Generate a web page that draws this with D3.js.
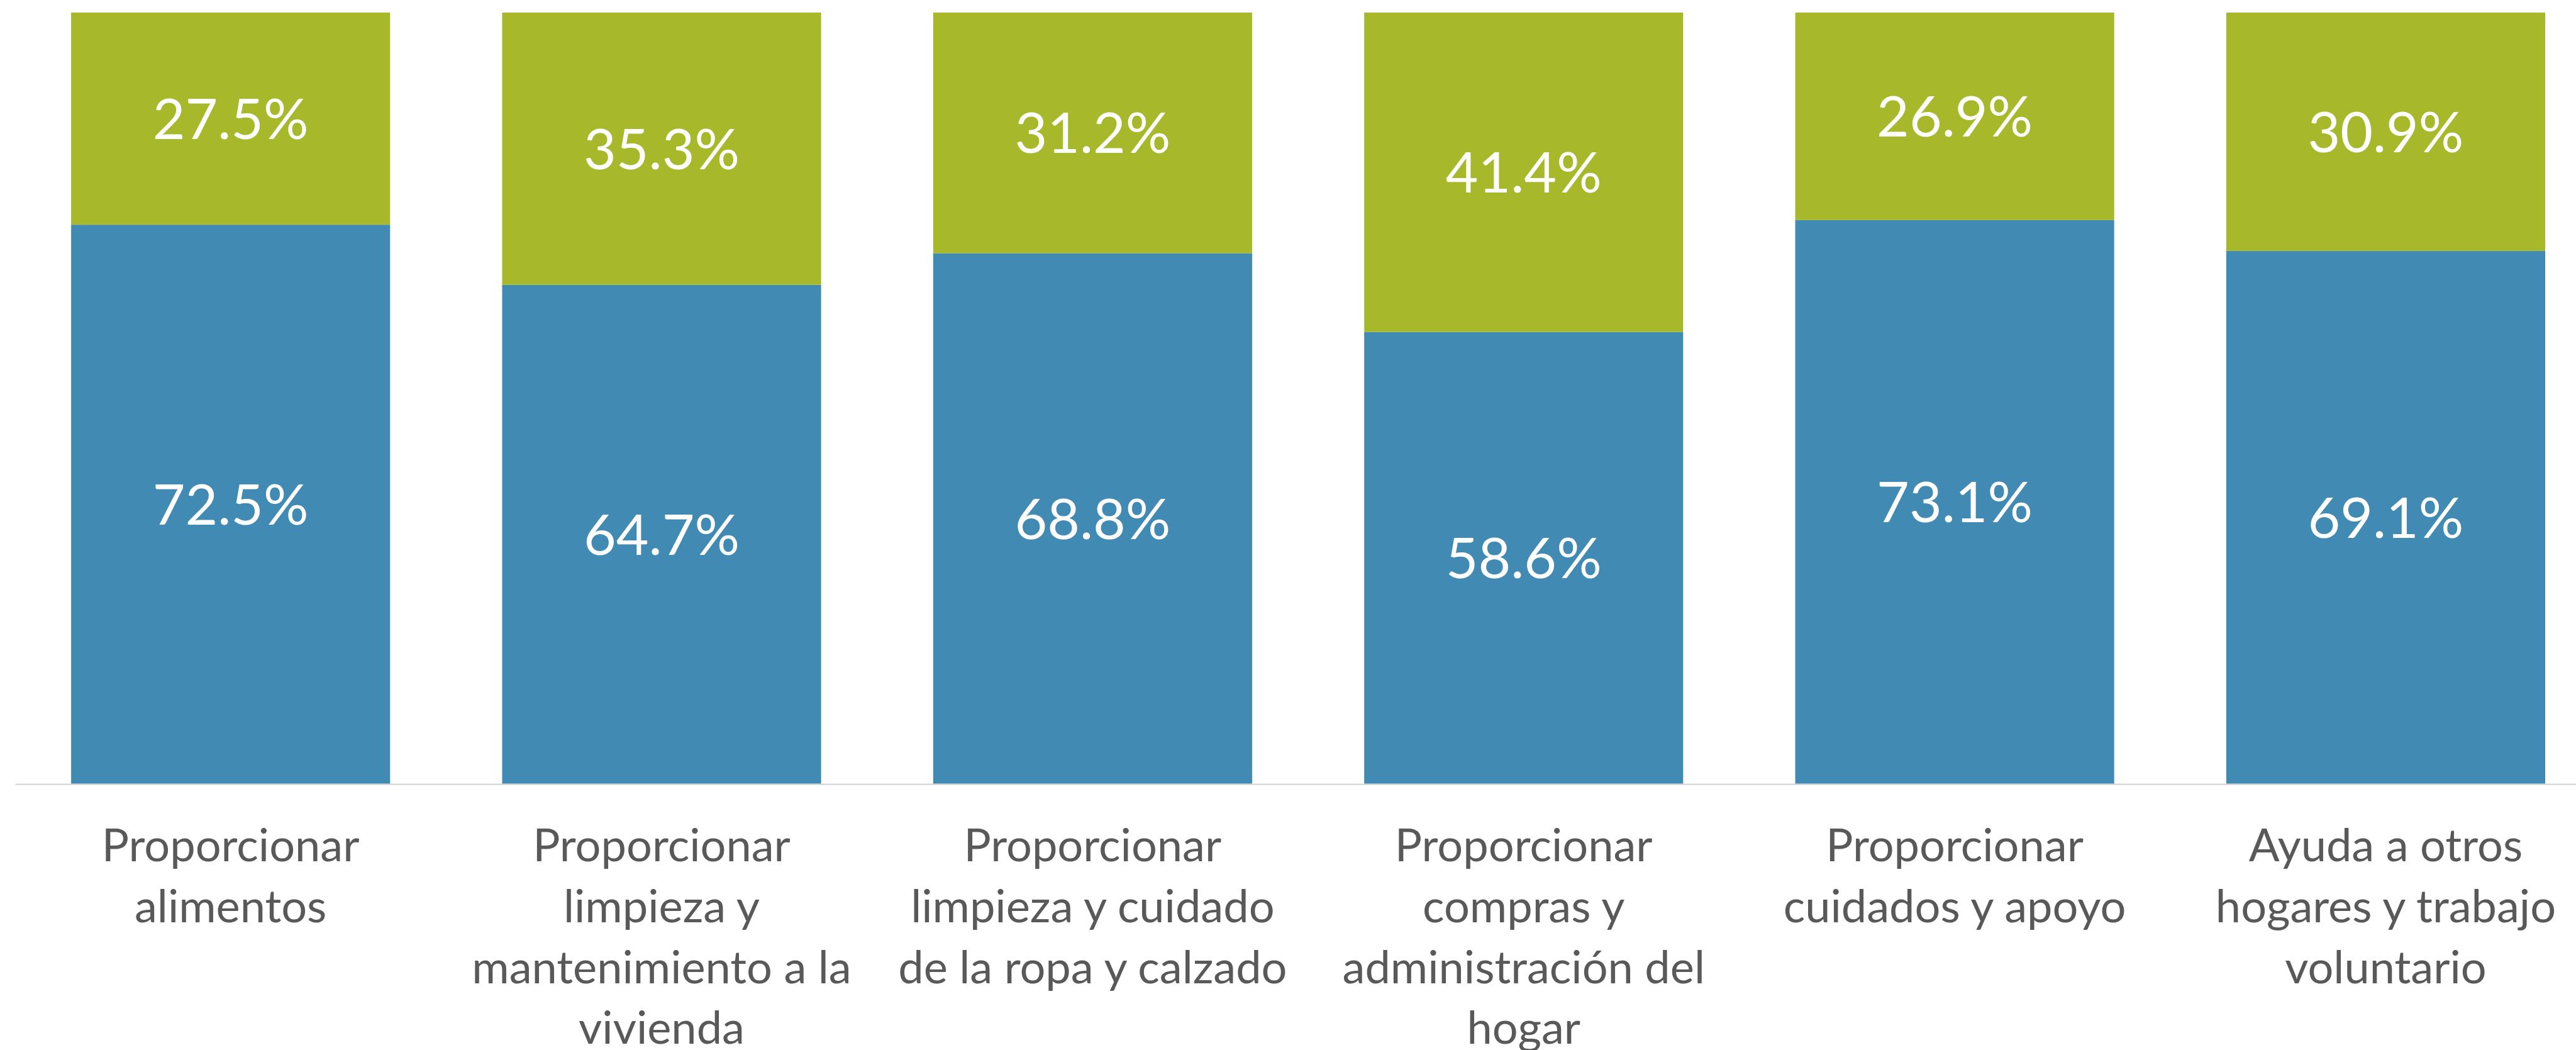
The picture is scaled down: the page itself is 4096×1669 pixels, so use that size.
<!DOCTYPE html>
<html>
<head>
<meta charset="utf-8">
<script src="https://cdn.jsdelivr.net/npm/d3@7"></script>
<style>
  html, body { margin: 0; padding: 0; background: #ffffff; }
  svg { display: block; }
</style>
</head>
<body>
<svg id="chart"></svg>
<script>
// Categories (one entry per bar) and their wrapped axis labels
const categories = [
  "alimentos",
  "vivienda",
  "ropa",
  "compras",
  "cuidados",
  "ayuda"
];
const categoryLines = [
  ["Proporcionar", "alimentos"],
  ["Proporcionar", "limpieza y", "mantenimiento a la", "vivienda"],
  ["Proporcionar", "limpieza y cuidado", "de la ropa y calzado"],
  ["Proporcionar", "compras y", "administración del", "hogar"],
  ["Proporcionar", "cuidados y apoyo"],
  ["Ayuda a otros", "hogares y trabajo", "voluntario"]
];

// Shares (%) – lower segment and upper segment of each stacked bar
const lowerShare = [72.5, 64.7, 68.8, 58.6, 73.1, 69.1];
const upperShare = [27.5, 35.3, 31.2, 41.4, 26.9, 30.9];

const seriesKeys = ["lower", "upper"];
const seriesColors = { lower: "#418AB3", upper: "#A7B92A" };

// Drawing is laid out in a 4312 x 1757 coordinate space and scaled to the window
const W = 4312, H = 1757;
const svg = d3.select("#chart")
  .attr("width", 4096)
  .attr("height", 1669)
  .attr("viewBox", `0 0 ${W} ${H}`);

const plot = { left: 25.25, right: 4354.25, top: 21, bottom: 1312 };

const rows = categories.map((c, i) => ({ cat: c, lower: lowerShare[i], upper: upperShare[i] }));
const stacked = d3.stack().keys(seriesKeys)(rows);

const x = d3.scaleBand()
  .domain(categories)
  .range([plot.left, plot.right])
  .paddingInner(0.26)
  .paddingOuter(0.13);

const y = d3.scaleLinear()
  .domain([0, 100])
  .range([plot.bottom, plot.top]);

// Stacked segments
const layers = svg.append("g").selectAll("g")
  .data(stacked)
  .join("g")
  .attr("fill", d => seriesColors[d.key]);

layers.selectAll("rect")
  .data(d => d)
  .join("rect")
  .attr("x", d => x(d.data.cat))
  .attr("y", d => y(d[1]))
  .attr("width", x.bandwidth())
  .attr("height", d => y(d[0]) - y(d[1]));

// Value labels centred in each segment
layers.selectAll("text")
  .data(d => d.map(v => ({ v, key: d.key })))
  .join("text")
  .attr("x", d => x(d.v.data.cat) + x.bandwidth() / 2)
  .attr("y", d => (y(d.v[0]) + y(d.v[1])) / 2)
  .attr("dy", "0.36em")
  .attr("text-anchor", "middle")
  .attr("fill", "#ffffff")
  .style("font-family", "Lato, 'Open Sans', sans-serif")
  .style("font-size", "94px")
  .text(d => d3.format(".1f")(d.v.data[d.key]) + "%");

// Category axis
const axis = svg.append("g")
  .attr("transform", `translate(0,${plot.bottom})`)
  .call(d3.axisBottom(x).tickSize(0).tickSizeOuter(0).tickFormat(""));

axis.select(".domain")
  .attr("stroke", "#D9D9D9")
  .attr("stroke-width", 2.5);

axis.selectAll(".tick text").remove();
axis.selectAll(".tick")
  .append("text")
  .attr("text-anchor", "middle")
  .attr("fill", "#595959")
  .style("font-family", "Lato, 'Open Sans', sans-serif")
  .style("font-size", "76px")
  .each(function (d, i) {
    const t = d3.select(this);
    categoryLines[i].forEach((line, j) => {
      t.append("tspan")
        .attr("x", 0)
        .attr("y", 129 + j * 102)
        .text(line);
    });
  });
</script>
</body>
</html>
